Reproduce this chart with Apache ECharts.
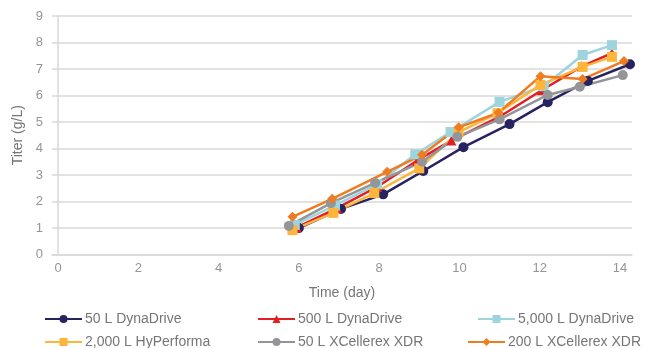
<!DOCTYPE html>
<html>
<head>
<meta charset="utf-8">
<script src="https://cdn.jsdelivr.net/npm/echarts@6/dist/echarts.min.js"></script>
<style>
  html, body { margin: 0; padding: 0; background: #fff; }
  #chart { width: 658px; height: 348px; }
</style>
</head>
<body>
<div id="chart"></div>
<script>
// Titer (g/L) by culture day for each bioreactor run, as [day, titer] pairs
const dyna50 = [[6.0, 1.0], [7.05, 1.72], [8.1, 2.27], [9.1, 3.15], [10.1, 4.05], [11.25, 4.92], [12.2, 5.75], [13.2, 6.55], [14.25, 7.18]];
const dyna500 = [[5.95, 1.02], [6.95, 1.75], [7.95, 2.55], [8.95, 3.55], [9.8, 4.3], [11.0, 5.2], [12.05, 6.2], [13.05, 7.1], [13.8, 7.6]];
const dyna5000 = [[5.9, 1.12], [6.9, 1.85], [7.95, 2.65], [8.9, 3.78], [9.78, 4.62], [11.0, 5.76], [12.1, 6.35], [13.07, 7.53], [13.8, 7.9]];
const hyp2000 = [[5.84, 0.92], [6.86, 1.57], [7.88, 2.32], [9.0, 3.25], [9.98, 4.62], [10.95, 5.33], [12.02, 6.4], [13.07, 7.08], [13.8, 7.46]];
const xdr50 = [[5.75, 1.08], [6.8, 1.94], [7.9, 2.7], [9.07, 3.5], [9.95, 4.44], [11.0, 5.1], [12.2, 6.02], [13.0, 6.33], [14.07, 6.77]];
const xdr200 = [[5.84, 1.42], [6.83, 2.1], [8.2, 3.12], [9.07, 3.76], [9.98, 4.8], [10.97, 5.35], [12.02, 6.73], [13.07, 6.62], [14.1, 7.3]];

const seriesNames = ['50 L DynaDrive', '500 L DynaDrive', '5,000 L DynaDrive', '2,000 L HyPerforma', '50 L XCellerex XDR', '200 L XCellerex XDR'];
const dayTicks = [0, 2, 4, 6, 8, 10, 12, 14];

const chart = echarts.init(document.getElementById('chart'), null, { renderer: 'canvas' });

const FONT = '"Liberation Sans", Arial, sans-serif';
const GRID_COLOR = '#d9d9d9';
const TEXT_COLOR = '#959595';
const TITLE_COLOR = '#767676';

function line(name, data, color, symbol, size) {
  return {
    name: name,
    type: 'line',
    data: data,
    symbol: symbol,
    symbolSize: size,
    lineStyle: { color: color, width: 2.5 },
    itemStyle: { color: color },
    emphasis: { disabled: true },
    animation: false
  };
}

function legendAt(name, left, top) {
  return {
    data: [name],
    left: left,
    top: top,
    itemWidth: 37,
    itemHeight: 10,
    textStyle: { fontFamily: FONT, fontSize: 14, color: TITLE_COLOR, padding: [0, 0, 0, -2] },
    padding: 0,
    selectedMode: false
  };
}

chart.setOption({
  backgroundColor: '#ffffff',
  grid: { left: 52, right: 26, top: 16, bottom: 93.5 },
  legend: [
    legendAt(seriesNames[0], 44, 312),
    legendAt(seriesNames[1], 257, 312),
    legendAt(seriesNames[2], 477, 312),
    legendAt(seriesNames[3], 44, 335),
    legendAt(seriesNames[4], 257, 335),
    legendAt(seriesNames[5], 467, 335)
  ],
  xAxis: {
    type: 'value',
    min: -0.15,
    max: 14.3,
    name: 'Time (day)',
    nameLocation: 'middle',
    nameGap: 32,
    nameTextStyle: { fontFamily: FONT, fontSize: 14, color: TITLE_COLOR },
    axisLine: { show: true, lineStyle: { color: GRID_COLOR, width: 1.5 } },
    axisTick: { show: false },
    splitLine: { show: false },
    axisLabel: {
      customValues: dayTicks,
      fontFamily: FONT, fontSize: 13, color: TEXT_COLOR, margin: 7
    }
  },
  yAxis: {
    type: 'value',
    min: 0,
    max: 9,
    interval: 1,
    name: 'Titer (g/L)',
    nameLocation: 'middle',
    nameGap: 26,
    nameTextStyle: { fontFamily: FONT, fontSize: 14, color: TITLE_COLOR },
    axisLine: { show: true, lineStyle: { color: GRID_COLOR, width: 1.5 } },
    axisTick: { show: false },
    splitLine: { show: true, lineStyle: { color: GRID_COLOR, width: 1.5 } },
    axisLabel: { fontFamily: FONT, fontSize: 13, color: TEXT_COLOR, margin: 9 }
  },
  series: [
    line(seriesNames[0], dyna50, '#272361', 'circle', 10),
    line(seriesNames[1], dyna500, '#e31e25', 'triangle', 10),
    line(seriesNames[2], dyna5000, '#9dd4dd', 'rect', 10),
    line(seriesNames[3], hyp2000, '#fdb53c', 'rect', 10),
    line(seriesNames[4], xdr50, '#939598', 'circle', 10),
    line(seriesNames[5], xdr200, '#ee7d22', 'diamond', 10)
  ]
});
</script>
</body>
</html>
